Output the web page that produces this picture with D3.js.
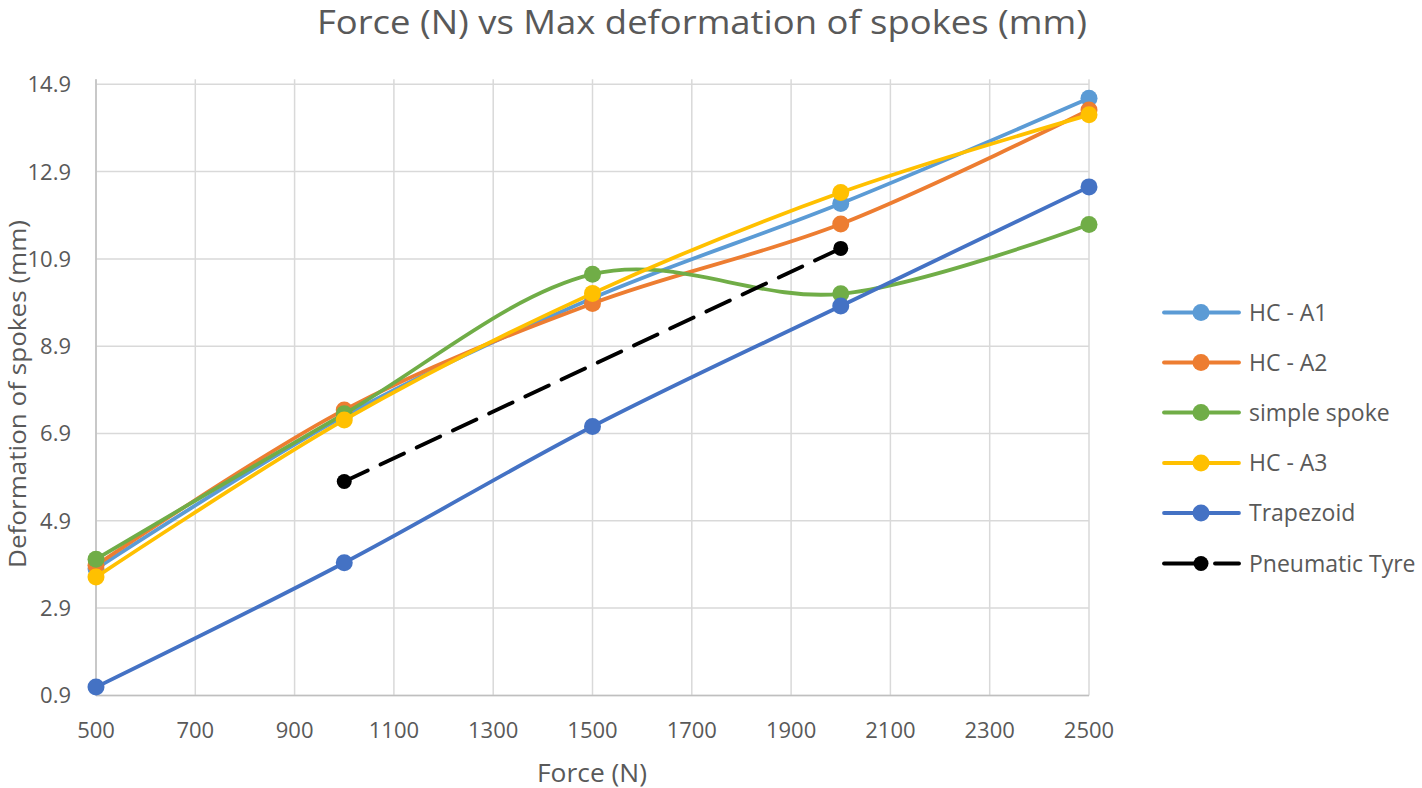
<!DOCTYPE html>
<html><head><meta charset="utf-8">
<script src="https://cdn.jsdelivr.net/npm/d3@7"></script>
<style>html,body{margin:0;padding:0;background:#fff;}</style>
</head><body>
<svg id="c" width="1422" height="788"></svg>
<script>
const forces = [500, 1000, 1500, 2000, 2500];
const seriesNames = ["HC - A1", "HC - A2", "simple spoke", "HC - A3", "Trapezoid", "Pneumatic Tyre"];
const hcA1 = [3.80, 7.30, 10.00, 12.17, 14.58];
const hcA2 = [3.88, 7.44, 9.88, 11.70, 14.31];
const simpleSpoke = [4.02, 7.35, 10.55, 10.10, 11.69];
const hcA3 = [3.61, 7.21, 10.11, 12.42, 14.20];
const trapezoid = [1.09, 3.94, 7.06, 9.82, 12.55];
const pneumaticForces = [1000, 2000];
const pneumatic = [5.80, 11.14];
const xTicks = [500, 700, 900, 1100, 1300, 1500, 1700, 1900, 2100, 2300, 2500];
const yTicks = [0.9, 2.9, 4.9, 6.9, 8.9, 10.9, 12.9, 14.9];
const colors = ["#5B9BD5", "#ED7D31", "#70AD47", "#FFC000", "#4472C4", "#000000"];

const svg = d3.select("#c");
const L = 96, R = 1089, T = 84.3, B = 695.4;
const x = d3.scaleLinear().domain([500, 2500]).range([L, R]);
const y = d3.scaleLinear().domain([0.9, 14.9]).range([B, T]);
const font = "'Open Sans', 'Liberation Sans', sans-serif";
const txt = "#595959";

// gridlines
svg.append("g").selectAll("line.h").data(yTicks).join("line")
  .attr("x1", L).attr("x2", R).attr("y1", d => y(d)).attr("y2", d => y(d))
  .attr("stroke", "#d9d9d9").attr("stroke-width", 1.5);
svg.append("g").selectAll("line.v").data(xTicks).join("line")
  .attr("y1", T - 5).attr("y2", B).attr("x1", d => x(d)).attr("x2", d => x(d))
  .attr("stroke", "#d9d9d9").attr("stroke-width", 1.5);
// axis lines
svg.append("line").attr("x1", L).attr("x2", L).attr("y1", T - 5).attr("y2", B)
  .attr("stroke", "#bfbfbf").attr("stroke-width", 1.5);
svg.append("line").attr("x1", L).attr("x2", R).attr("y1", B).attr("y2", B)
  .attr("stroke", "#bfbfbf").attr("stroke-width", 1.5);

// tick labels
svg.append("g").selectAll("text").data(yTicks).join("text")
  .attr("x", 71).attr("y", d => y(d)).attr("dy", "0.36em")
  .attr("text-anchor", "end").attr("font-family", font).attr("font-size", 22)
  .attr("fill", txt).text(d => d.toFixed(1));
svg.append("g").selectAll("text").data(xTicks).join("text")
  .attr("x", d => x(d)).attr("y", 738)
  .attr("text-anchor", "middle").attr("font-family", font).attr("font-size", 22)
  .attr("fill", txt).text(d => d);

// titles
svg.append("text").attr("x", 702).attr("y", 34).attr("text-anchor", "middle")
  .attr("font-family", font).attr("font-size", 32).attr("fill", txt)
  .attr("textLength", 770).attr("lengthAdjust", "spacingAndGlyphs")
  .text("Force (N) vs Max deformation of spokes (mm)");
svg.append("text").attr("x", 592).attr("y", 782).attr("text-anchor", "middle")
  .attr("font-family", font).attr("font-size", 25).attr("fill", txt)
  .attr("textLength", 110).attr("lengthAdjust", "spacingAndGlyphs")
  .text("Force (N)");
svg.append("text").attr("transform", "translate(26,394) rotate(-90)")
  .attr("text-anchor", "middle").attr("font-family", font).attr("font-size", 23).attr("fill", txt)
  .attr("textLength", 348).attr("lengthAdjust", "spacingAndGlyphs")
  .text("Deformation of spokes (mm)");

const seriesData = [hcA1, hcA2, simpleSpoke, hcA3, trapezoid].map((vals, i) => ({
  name: seriesNames[i], color: colors[i], dash: null, r: 8.5,
  pts: forces.map((f, j) => [f, vals[j]])
}));
seriesData.push({ name: seriesNames[5], color: colors[5], dash: "26,14", r: 7.5,
  pts: pneumaticForces.map((f, j) => [f, pneumatic[j]]) });

const line = d3.line().x(d => x(d[0])).y(d => y(d[1])).curve(d3.curveCatmullRom.alpha(0));
const lineStraight = d3.line().x(d => x(d[0])).y(d => y(d[1]));

seriesData.forEach(s => {
  const g = svg.append("g");
  g.append("path").attr("d", s.dash ? lineStraight(s.pts) : line(s.pts))
    .attr("fill", "none").attr("stroke", s.color).attr("stroke-width", 3.8)
    .attr("stroke-linecap", "round").attr("stroke-dasharray", s.dash);
  g.selectAll("circle").data(s.pts).join("circle")
    .attr("cx", d => x(d[0])).attr("cy", d => y(d[1])).attr("r", s.r).attr("fill", s.color);
});

// legend
const legY = [312.5, 362.5, 412.5, 463, 513, 563.5];
seriesData.forEach((s, i) => {
  const g = svg.append("g");
  if (s.dash) {
    g.append("line").attr("x1", 1164).attr("x2", 1195).attr("y1", legY[i]).attr("y2", legY[i])
      .attr("stroke", s.color).attr("stroke-width", 3.8).attr("stroke-linecap", "round");
    g.append("line").attr("x1", 1215).attr("x2", 1239).attr("y1", legY[i]).attr("y2", legY[i])
      .attr("stroke", s.color).attr("stroke-width", 3.8).attr("stroke-linecap", "round");
  } else {
    g.append("line").attr("x1", 1164).attr("x2", 1239).attr("y1", legY[i]).attr("y2", legY[i])
      .attr("stroke", s.color).attr("stroke-width", 3.8).attr("stroke-linecap", "round");
  }
  g.append("circle").attr("cx", 1201).attr("cy", legY[i]).attr("r", s.r).attr("fill", s.color);
  g.append("text").attr("x", 1249).attr("y", legY[i]).attr("dy", "0.36em")
    .attr("font-family", font).attr("font-size", 23).attr("fill", txt).text(s.name);
});
</script>
</body></html>
